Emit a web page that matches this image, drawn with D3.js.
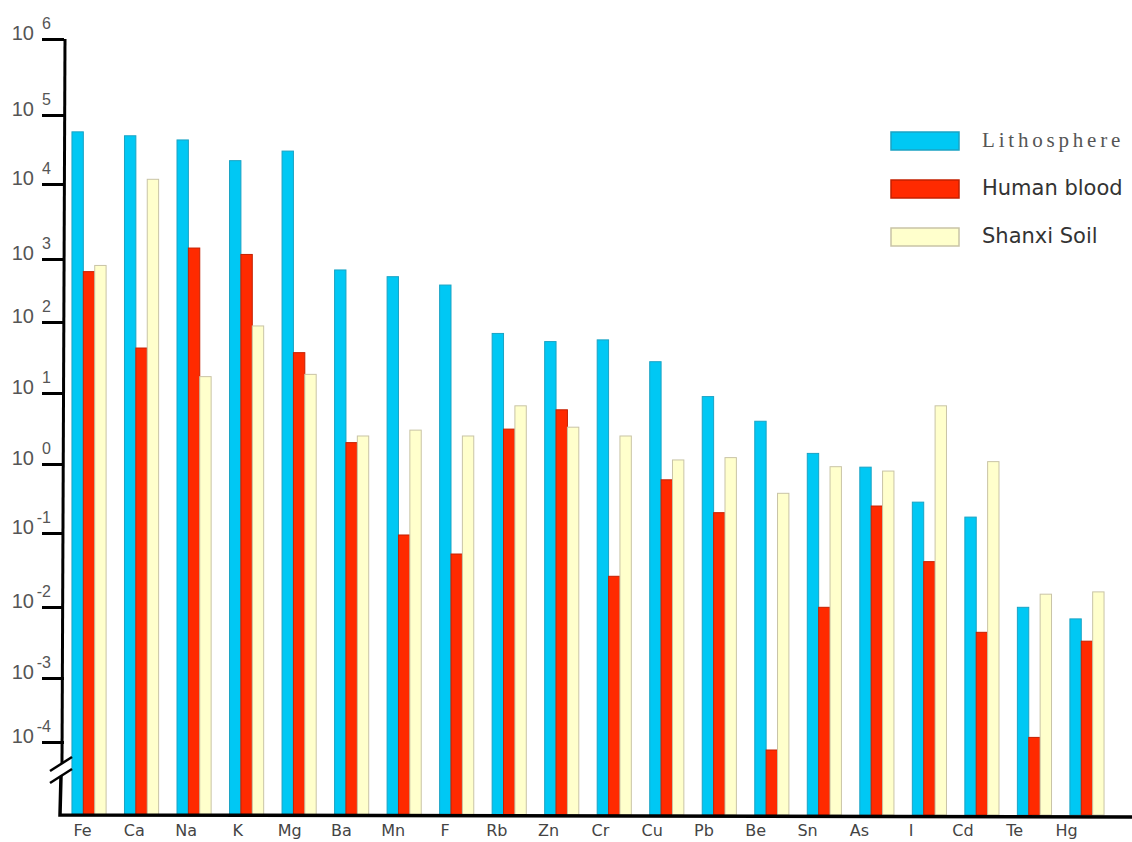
<!DOCTYPE html>
<html>
<head>
<meta charset="utf-8">
<script src="https://cdn.jsdelivr.net/npm/d3@7"></script>
<style>
  body{margin:0;background:#fff;}
  svg{display:block;}
</style>
</head>
<body>
<div id="chart"></div>
<script>
// element abundances (log scale)
const elements = ['Fe','Ca','Na','K','Mg','Ba','Mn','F','Rb','Zn','Cr','Cu','Pb','Be','Sn','As','I','Cd','Te','Hg'];
const lithosphere = [57000,50000,43500,21800,30000,670,524,386,69,53,56,27.6,8.9,4.0,1.41,0.9,0.28,0.17,0.0099,0.0068];
const humanBlood  = [630,43,1400,1150,37,2.0,0.094,0.052,3.1,5.8,0.026,0.59,0.197,0.000075,0.0099,0.246,0.041,0.0044,0.000118,0.0033];
const shanxiSoil  = [790,11700,17,88,18.3,2.48,3.0,2.48,6.6,3.3,2.48,1.14,1.23,0.376,0.914,0.79,6.6,1.08,0.0149,0.016];
const seriesNames = ['Lithosphere','Human blood','Shanxi Soil'];
const tickExps = [-4,-3,-2,-1,0,1,2,3,4,5,6];

(function(){
  const W = 1132, H = 842;
  const axisX = 64, baseY = 815;
  // the original axis is drawn by hand, decades are not evenly spaced
  const tickY = [742,678,607,533,464,393,322,259,184,115,39];

  const series = [
    {name:seriesNames[0], vals:lithosphere, fill:'#00c8f4', stroke:'#1aa3c4'},
    {name:seriesNames[1], vals:humanBlood,  fill:'#ff2a00', stroke:'#c42000'},
    {name:seriesNames[2], vals:shanxiSoil,  fill:'#ffffcc', stroke:'#c9c4a6'}
  ];

  const svg = d3.select('#chart').append('svg').attr('width',W).attr('height',H);

  const x = d3.scaleBand().domain(elements).range([52,1124]).paddingInner(0.35).paddingOuter(0.38);
  const xs = d3.scaleBand().domain(seriesNames).range([0,x.bandwidth()]);
  const y = d3.scaleLog().domain(tickExps.map(e=>Math.pow(10,e))).range(tickY);
  const labelX = d3.scalePoint().domain(elements).range([82,1066]);

  // bars
  const grp = svg.append('g').selectAll('g').data(elements).join('g')
    .attr('transform',d=>`translate(${x(d)},0)`);
  series.forEach(s=>{
    grp.append('rect')
      .attr('x',xs(s.name))
      .attr('width',xs.bandwidth())
      .attr('y',(d,i)=>y(s.vals[i]))
      .attr('height',(d,i)=>baseY-y(s.vals[i]))
      .attr('fill',s.fill).attr('stroke',s.stroke).attr('stroke-width',1);
  });

  // y axis ticks
  const ya = svg.append('g').attr('transform',`translate(${axisX},0)`)
    .call(d3.axisLeft(y).tickValues(tickExps.map(e=>Math.pow(10,e))).tickSize(22).tickFormat(''));
  ya.select('.domain').remove();
  ya.selectAll('line').attr('stroke','#000').attr('stroke-width',3);

  // hand-drawn axis with break
  const ax = svg.append('g').attr('fill','none').attr('stroke','#000').attr('stroke-width',3);
  ax.append('path').attr('d',`M${axisX+1},${tickY[10]}L${axisX-2},763`);
  ax.append('path').attr('d',`M${axisX-3},776L${axisX-4},${baseY}L${W},${baseY+2}`).attr('stroke-width',3.5);
  ax.append('path').attr('d','M50,771L72,757').attr('stroke-width',2.5);
  ax.append('path').attr('d','M50,783L72,769').attr('stroke-width',2.5);

  // tick labels 10^n
  const tl = svg.append('g').style('font-family','"Liberation Sans Narrow","Liberation Sans",Arial,sans-serif').style('fill','#555');
  tickExps.forEach((e,i)=>{
    tl.append('text').attr('x',34).attr('y',tickY[i]+1).attr('text-anchor','end')
      .style('font-size','20px').text('10');
    tl.append('text').attr('x',51).attr('y',tickY[i]-10).attr('text-anchor','end')
      .style('font-size','16px').text(e);
  });

  // x labels
  const xa = svg.append('g').attr('transform',`translate(0,${baseY})`)
    .call(d3.axisBottom(labelX).tickSize(0).tickPadding(10));
  xa.select('.domain').remove();
  xa.selectAll('text').style('font-family','"DejaVu Sans",sans-serif').style('font-size','16px').style('fill','#444');

  // legend
  const leg = svg.append('g').attr('transform','translate(891,132)');
  series.forEach((s,i)=>{
    const r = leg.append('g').attr('transform',`translate(0,${i*48})`);
    r.append('rect').attr('width',68).attr('height',18).attr('fill',s.fill).attr('stroke',s.stroke).attr('stroke-width',1.5);
    const t = r.append('text').attr('x',91).attr('y',15).text(s.name);
    if(i===0) t.style('font-family','"Liberation Serif",serif').style('font-size','21px').style('letter-spacing','3.8px').style('fill','#555');
    else t.style('font-family','"DejaVu Sans",sans-serif').style('font-size','21px').style('fill','#333');
  });
})();
</script>
</body>
</html>
